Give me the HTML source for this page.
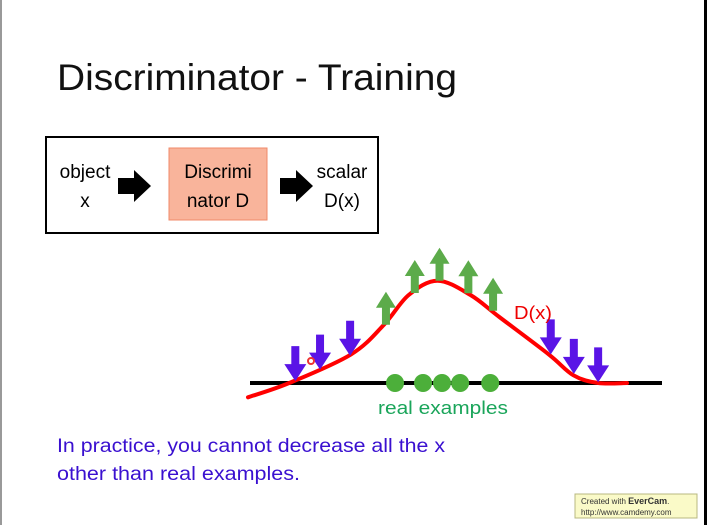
<!DOCTYPE html>
<html><head><meta charset="utf-8"><style>
body{margin:0;width:707px;height:525px;overflow:hidden;background:#fff;font-family:"Liberation Sans","DejaVu Sans",sans-serif}
</style></head><body>
<svg width="707" height="525" viewBox="0 0 707 525">
<rect x="0" y="0" width="707" height="525" fill="#fff"/>
<rect x="0" y="0" width="2" height="525" fill="#999"/>
<rect x="704" y="0" width="3" height="525" fill="#000"/>
<text x="57" y="90" font-size="37" fill="#111" textLength="400" lengthAdjust="spacingAndGlyphs">Discriminator - Training</text>
<rect x="46" y="137" width="332" height="96" fill="none" stroke="#000" stroke-width="2"/>
<text x="85" y="178" font-size="19" text-anchor="middle">object</text>
<text x="85" y="207" font-size="19" text-anchor="middle">x</text>
<polygon points="118,178 134,178 134,170 151,186 134,202 134,194 118,194" fill="#000"/>
<rect x="169" y="148" width="98" height="72" fill="#f9b49b" stroke="#f08a6a" stroke-width="1"/>
<text x="218" y="178" font-size="19" text-anchor="middle">Discrimi</text>
<text x="218" y="207" font-size="19" text-anchor="middle">nator D</text>
<polygon points="280,178 296,178 296,170 313,186 296,202 296,194 280,194" fill="#000"/>
<text x="342" y="178" font-size="19" text-anchor="middle">scalar</text>
<text x="342" y="207" font-size="19" text-anchor="middle">D(x)</text>
<g id="chart"></g>
<text x="378" y="414" font-size="18" fill="#1aa55a" textLength="130" lengthAdjust="spacingAndGlyphs">real examples</text>
<text x="514" y="319" font-size="18" fill="#e00" textLength="38" lengthAdjust="spacingAndGlyphs">D(x)</text>
<text x="57" y="452" font-size="19" fill="#3a10d0" textLength="388" lengthAdjust="spacingAndGlyphs">In practice, you cannot decrease all the x</text>
<text x="57" y="480" font-size="19" fill="#3a10d0" textLength="243" lengthAdjust="spacingAndGlyphs">other than real examples.</text>
<rect x="575" y="494" width="122" height="24" fill="#fafac8" stroke="#b8b880"/>
<text x="581" y="504" font-size="8" fill="#333">Created with <tspan font-weight="bold" font-size="9">EverCam</tspan>.</text>
<text x="581" y="515" font-size="8" fill="#333">http://www.camdemy.com</text>
</svg>
<script>
const curveX=[0,0.1,0.25,0.33,0.39,0.46,0.54,0.61,0.73,0.79,0.85,0.92];
const curveY=[-0.13,0,0.26,0.53,0.8,0.93,0.8,0.6,0.26,0.07,0,0];
const downX=[0.11,0.17,0.243,0.73,0.786,0.845];
const upX=[0.33,0.4,0.46,0.53,0.59];
const realX=[0.352,0.42,0.466,0.51,0.583];
const X0=250,X1=662,Y0=383,YH=110;
const sx=v=>X0+v*(X1-X0), sy=v=>Y0-v*YH;
function fAt(x){for(let i=0;i<curveX.length-1;i++){if(x<=curveX[i+1]){const t=(x-curveX[i])/(curveX[i+1]-curveX[i]);return curveY[i]+t*(curveY[i+1]-curveY[i]);}}return 0;}
const NS="http://www.w3.org/2000/svg",g=document.getElementById('chart');
function mk(t,a){const e=document.createElementNS(NS,t);for(const k in a)e.setAttribute(k,a[k]);g.appendChild(e);return e;}
let ax=mk('line',{x1:X0,y1:Y0,x2:X1,y2:Y0,stroke:'#000','stroke-width':4});


const P=curveX.map((x,i)=>[sx(x)-2,sy(curveY[i])]);
let d='M'+P[0][0]+','+P[0][1];
for(let i=0;i<P.length-1;i++){const p0=P[i-1]||P[i],p1=P[i],p2=P[i+1],p3=P[i+2]||P[i+1];
d+=` C${p1[0]+(p2[0]-p0[0])/6},${p1[1]+(p2[1]-p0[1])/6} ${p2[0]-(p3[0]-p1[0])/6},${p2[1]-(p3[1]-p1[1])/6} ${p2[0]},${p2[1]}`;}
let c=mk('path',{d:d,fill:'none',stroke:'#f00','stroke-width':4,'stroke-linecap':'round'});


realX.forEach(v=>{let e=mk('circle',{cx:sx(v),cy:Y0,r:9,fill:'#4caf3a'});

});
downX.forEach(v=>{const x=sx(v),tip=sy(fAt(v));
let e=mk('polygon',{points:`${x-4},${tip-35} ${x+4},${tip-35} ${x+4},${tip-17} ${x+11},${tip-17} ${x},${tip} ${x-11},${tip-17} ${x-4},${tip-17}`,fill:'#5a14e6'});

});
upX.forEach(v=>{const x=sx(v),b=sy(fAt(v));
let e=mk('polygon',{points:`${x-4},${b} ${x+4},${b} ${x+4},${b-17} ${x+10},${b-17} ${x},${b-33} ${x-10},${b-17} ${x-4},${b-17}`,fill:'#5cab4a'});

});
let cur=mk('circle',{cx:311,cy:361,r:3,fill:'none',stroke:'#e33','stroke-width':2});


</script>
</body></html>
